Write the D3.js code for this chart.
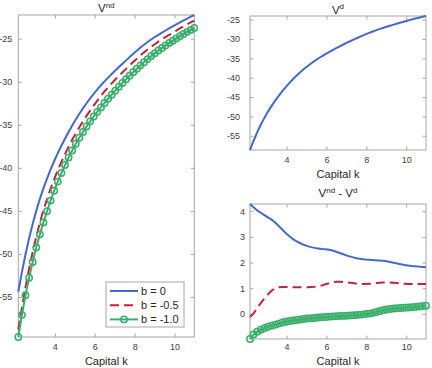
<!DOCTYPE html>
<html><head><meta charset="utf-8">
<script src="https://cdn.jsdelivr.net/npm/d3@7"></script>
<style>
html,body{margin:0;padding:0;background:#fff;}
svg{display:block;font-family:"Liberation Sans",Arial,sans-serif;}
</style></head>
<body>
<svg id="chart" width="432" height="368"></svg>
<script>
// Capital grid
const capitalK = [2.17,2.35,2.53,2.71,2.89,3.07,3.25,3.43,3.61,3.79,3.97,4.15,4.33,4.51,4.69,4.87,5.05,5.23,5.41,5.59,5.77,5.95,6.13,6.31,6.49,6.67,6.85,7.03,7.21,7.39,7.57,7.75,7.93,8.11,8.29,8.47,8.65,8.83,9.01,9.19,9.37,9.55,9.73,9.91,10.09,10.27,10.45,10.63,10.81,10.99];
const seriesNames = ["b = 0","b = -0.5","b = -1.0"];
// V^nd for each b
const vndB0 = [-54.39,-52.13,-50.07,-48.20,-46.53,-45.00,-43.60,-42.36,-41.25,-40.19,-39.21,-38.30,-37.44,-36.62,-35.83,-35.09,-34.39,-33.73,-33.10,-32.50,-31.94,-31.40,-30.89,-30.41,-29.96,-29.53,-29.11,-28.70,-28.30,-27.91,-27.52,-27.13,-26.76,-26.39,-26.03,-25.70,-25.39,-25.09,-24.81,-24.55,-24.30,-24.05,-23.81,-23.58,-23.34,-23.11,-22.88,-22.66,-22.45,-22.25];
const vndB05 = [-58.79,-56.26,-53.88,-51.72,-49.78,-48.00,-46.37,-44.92,-43.63,-42.42,-41.30,-40.27,-39.31,-38.40,-37.54,-36.74,-35.99,-35.28,-34.61,-33.97,-33.36,-32.77,-32.20,-31.65,-31.13,-30.65,-30.19,-29.74,-29.32,-28.91,-28.51,-28.11,-27.72,-27.33,-26.95,-26.59,-26.26,-25.94,-25.64,-25.35,-25.08,-24.81,-24.56,-24.31,-24.06,-23.81,-23.57,-23.34,-23.12,-22.91];
const vndB10 = [-59.65,-57.08,-54.80,-52.76,-50.94,-49.26,-47.73,-46.34,-45.05,-43.81,-42.66,-41.60,-40.61,-39.68,-38.80,-37.98,-37.21,-36.50,-35.83,-35.19,-34.60,-34.04,-33.50,-32.98,-32.47,-31.98,-31.51,-31.04,-30.59,-30.15,-29.72,-29.30,-28.89,-28.49,-28.10,-27.73,-27.37,-27.02,-26.69,-26.38,-26.08,-25.79,-25.51,-25.24,-24.97,-24.71,-24.46,-24.21,-23.98,-23.75];
// V^d
const vd = [-58.67,-56.28,-54.10,-52.14,-50.38,-48.76,-47.27,-45.92,-44.67,-43.47,-42.35,-41.32,-40.35,-39.44,-38.58,-37.78,-37.03,-36.33,-35.67,-35.05,-34.47,-33.92,-33.39,-32.88,-32.38,-31.90,-31.43,-30.97,-30.53,-30.10,-29.68,-29.27,-28.88,-28.50,-28.13,-27.79,-27.47,-27.16,-26.86,-26.57,-26.29,-26.01,-25.74,-25.48,-25.22,-24.97,-24.73,-24.50,-24.28,-24.07];
// V^nd - V^d
const diffB0 = [4.28,4.15,4.03,3.94,3.85,3.76,3.67,3.56,3.42,3.28,3.14,3.02,2.91,2.82,2.75,2.69,2.64,2.60,2.57,2.55,2.53,2.52,2.50,2.47,2.42,2.37,2.32,2.27,2.23,2.19,2.16,2.14,2.12,2.11,2.10,2.09,2.08,2.07,2.05,2.02,1.99,1.96,1.93,1.90,1.88,1.86,1.85,1.84,1.83,1.82];
const diffB05 = [-0.12,0.02,0.22,0.42,0.60,0.76,0.90,1.00,1.04,1.05,1.05,1.05,1.04,1.04,1.04,1.04,1.04,1.05,1.06,1.08,1.11,1.15,1.19,1.23,1.25,1.25,1.24,1.23,1.21,1.19,1.17,1.16,1.16,1.17,1.18,1.20,1.21,1.22,1.22,1.22,1.21,1.20,1.18,1.17,1.16,1.16,1.16,1.16,1.16,1.16];
const diffB10 = [-0.98,-0.80,-0.70,-0.62,-0.56,-0.50,-0.46,-0.42,-0.38,-0.34,-0.31,-0.28,-0.26,-0.24,-0.22,-0.20,-0.18,-0.17,-0.16,-0.14,-0.13,-0.12,-0.11,-0.10,-0.09,-0.08,-0.08,-0.07,-0.06,-0.05,-0.04,-0.03,-0.01,0.01,0.03,0.06,0.10,0.14,0.17,0.19,0.21,0.22,0.23,0.24,0.25,0.26,0.27,0.29,0.30,0.32];
const xTicks = [4,6,8,10];
const yTicksV = [-55,-50,-45,-40,-35,-30,-25];
const yTicksDiff = [0,1,2,3,4];

const C_BLUE = "#4468cc", C_RED = "#c8203f", C_GREEN = "#3aae6b";
const styles = [
  {color:C_BLUE, dash:null, marker:false},
  {color:C_RED, dash:"9,5", marker:false},
  {color:C_GREEN, dash:null, marker:true}
];

const svg = d3.select("#chart");
const AX = "#a6a6a6", TXT = "#404040";
const fmt = d => String(d); // plain hyphen minus like the original

function panel(box, yVals, yTicks, seriesList, title, opts) {
  const g = svg.append("g");
  const x = d3.scaleLinear().domain(d3.extent(capitalK)).range([box.x0, box.x1]);
  const y = d3.scaleLinear().domain(d3.extent(yVals)).range([box.y1, box.y0]);
  const mk = (ax, tr, labels) => {
    const a = g.append("g").attr("transform", tr).call(ax);
    a.select(".domain").remove();
    a.selectAll(".tick line").attr("stroke", AX);
    a.selectAll(".tick text").attr("fill", TXT).style("font-size", "9px")
      .style("font-family", '"Liberation Sans",Arial,sans-serif');
    if (!labels) a.selectAll(".tick text").remove();
    return a;
  };
  mk(d3.axisBottom(x).tickValues(xTicks).tickSizeInner(-3.5).tickSizeOuter(0).tickPadding(opts.xPad).tickFormat(fmt), `translate(0,${box.y1})`, true);
  mk(d3.axisTop(x).tickValues(xTicks).tickSizeInner(-3.5).tickSizeOuter(0), `translate(0,${box.y0})`, false);
  mk(d3.axisLeft(y).tickValues(yTicks).tickSizeInner(-3.5).tickSizeOuter(0).tickPadding(opts.yPad).tickFormat(fmt), `translate(${box.x0},0)`, true);
  mk(d3.axisRight(y).tickValues(yTicks).tickSizeInner(-3.5).tickSizeOuter(0), `translate(${box.x1},0)`, false);
  g.append("rect").attr("x", box.x0).attr("y", box.y0)
    .attr("width", box.x1 - box.x0).attr("height", box.y1 - box.y0)
    .attr("fill", "none").attr("stroke", AX).attr("stroke-width", 1);

  const line = d3.line().x((d, i) => x(capitalK[i])).y(d => y(d));
  seriesList.forEach(s => {
    const p = g.append("path").datum(s.values).attr("d", line)
      .attr("fill", "none").attr("stroke", s.style.color).attr("stroke-width", 2);
    if (s.style.dash) p.attr("stroke-dasharray", s.style.dash);
    if (s.style.marker) {
      g.selectAll(null).data(s.values).enter().append("circle")
        .attr("cx", (d, i) => x(capitalK[i])).attr("cy", d => y(d)).attr("r", 3.2)
        .attr("fill", "none").attr("stroke", s.style.color).attr("stroke-width", 1.5);
    }
  });

  g.append("text").attr("x", (box.x0 + box.x1) / 2).attr("y", opts.xlabY)
    .attr("text-anchor", "middle").attr("fill", "#262626").style("font-size", "11px").text("Capital k");
  const t = g.append("text").attr("x", (box.x0 + box.x1) / 2).attr("y", opts.titleY)
    .attr("text-anchor", "middle").attr("fill", "#262626").style("font-size", "11.5px");
  title.forEach(part => {
    const ts = t.append("tspan").text(part.t);
    if (part.sup) ts.attr("dy", -4.5).style("font-size", "8px");
    else if (part.after) ts.attr("dy", 4.5);
  });
  return {x, y, g};
}

// Left panel: V^nd
panel({x0:18.3, x1:194.3, y0:15, y1:337},
  vndB0.concat(vndB05, vndB10), yTicksV,
  [{values:vndB0, style:styles[0]}, {values:vndB05, style:styles[1]}, {values:vndB10, style:styles[2]}],
  [{t:"V"},{t:"nd",sup:true}], {xlabY:365, titleY:12, xPad:6.5, yPad:6});

// Top-right: V^d
panel({x0:250, x1:426, y0:16, y1:150}, vd, yTicksV,
  [{values:vd, style:styles[0]}],
  [{t:"V"},{t:"d",sup:true}], {xlabY:178, titleY:13.5, xPad:7, yPad:10});

// Bottom-right: V^nd - V^d
panel({x0:250, x1:426, y0:204, y1:339}, diffB0.concat(diffB05, diffB10), yTicksDiff,
  [{values:diffB0, style:styles[0]}, {values:diffB05, style:styles[1]}, {values:diffB10, style:styles[2]}],
  [{t:"V"},{t:"nd",sup:true},{t:" - V",after:true},{t:"d",sup:true}], {xlabY:365, titleY:197, xPad:4.5, yPad:5});

// Legend
const lg = svg.append("g");
lg.append("rect").attr("x", 106).attr("y", 282).attr("width", 78).attr("height", 45)
  .attr("fill", "#fff").attr("stroke", AX).attr("stroke-width", 1);
seriesNames.forEach((name, i) => {
  const yy = 291 + i * 14.2;
  const st = styles[i];
  const l = lg.append("line").attr("x1", 110).attr("x2", 138).attr("y1", yy).attr("y2", yy)
    .attr("stroke", st.color).attr("stroke-width", 2);
  if (st.dash) l.attr("stroke-dasharray", st.dash);
  if (st.marker) lg.append("circle").attr("cx", 124).attr("cy", yy).attr("r", 3.2)
    .attr("fill", "none").attr("stroke", st.color).attr("stroke-width", 1.5);
  lg.append("text").attr("x", 141).attr("y", yy + 4).attr("fill", "#262626")
    .style("font-size", "11px").text(name);
});
</script>
</body></html>
